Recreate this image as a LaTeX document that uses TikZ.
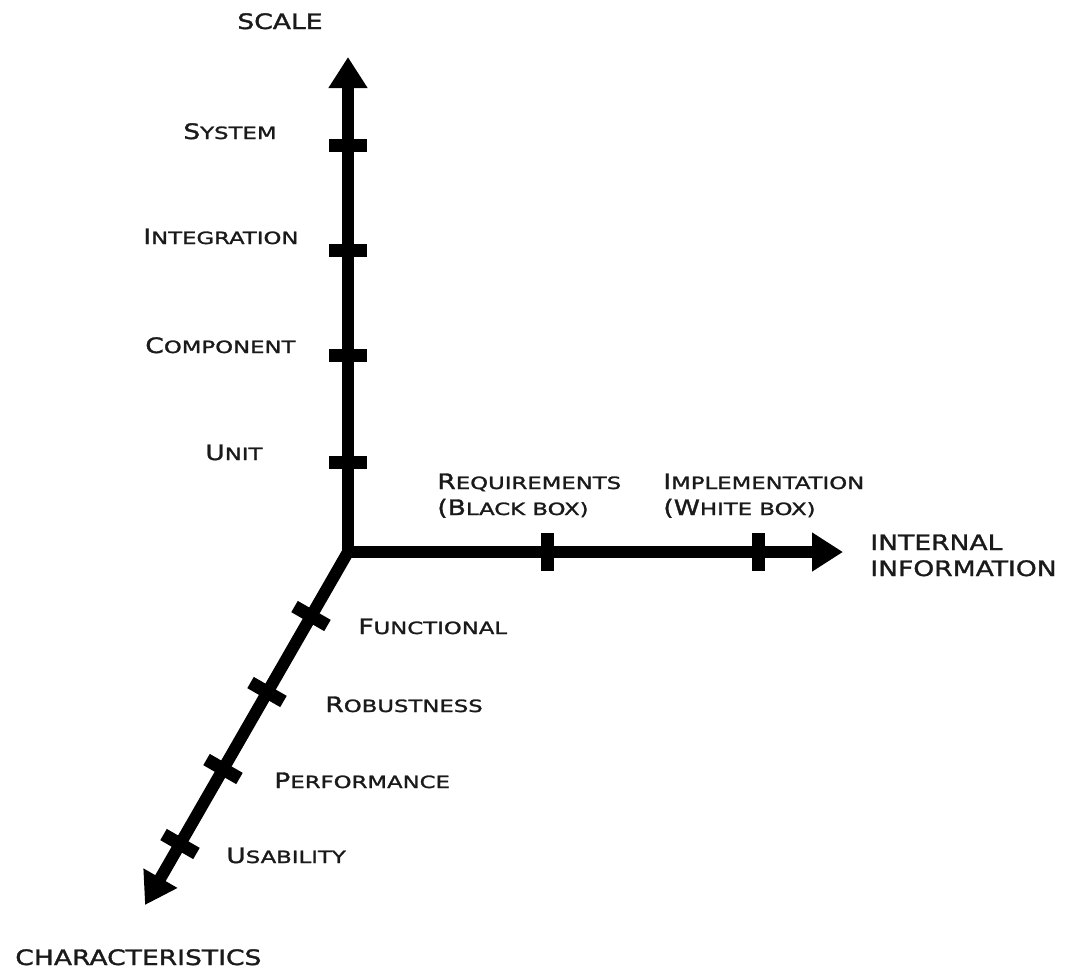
\documentclass[tikz,border=0pt]{standalone}
\usepackage{fontspec}
\usetikzlibrary{arrows.meta}
% wide capitals for all labels
\newfontfamily\capsfacebig[FakeStretch=1.25, FakeBold=1.5]{DejaVu Sans}
\newfontfamily\capsfacesmall[FakeStretch=1.35, FakeBold=1.5]{DejaVu Sans}
\newcommand\capsbig{\capsfacebig\fontsize{12.1}{14.8}\selectfont}
\newcommand\capssmall{\capsfacesmall\fontsize{9.6}{14.8}\selectfont}
% a word in small capitals: large first letter, smaller rest
\newcommand\capsword[2]{{\capsbig #1}{\capssmall #2}}
\definecolor{ink}{HTML}{1A1A1A}
\begin{document}
\begin{tikzpicture}[x=0.02cm, y=-0.02cm,
  axis/.style={line width=0.24cm, shorten <=-0.12cm,
    -{Triangle[length=0.62cm, width=0.74cm]}},
  tickmark/.style={rectangle, fill=black, inner sep=0pt,
    minimum width=0.76cm, minimum height=0.26cm},
  axislabel/.style={inner sep=0pt, anchor=base west, text=ink,
    font=\capsbig, align=left},
  ticklabel/.style={inner sep=0pt, anchor=base west, text=ink,
    font=\capsbig, align=left}]
\useasboundingbox (0,0) rectangle (1065,968);

% origin and the three arrow ends
\coordinate (O) at (348,552);
\coordinate (scaleTip) at (348,57);
\coordinate (infoTip) at (843,552);
\coordinate (charTip) at (145,905);

\draw[axis] (O) -- (scaleTip);
\draw[axis] (O) -- (infoTip);
\draw[axis] (O) -- (charTip);

% ticks on the scale axis
\node[tickmark] (s1) at (348,145) {};
\node[tickmark] (s2) at (348,250) {};
\node[tickmark] (s3) at (348,355) {};
\node[tickmark] (s4) at (348,462) {};

% ticks on the internal information axis
\node[tickmark, rotate=90] (i1) at (547,552) {};
\node[tickmark, rotate=90] (i2) at (758,552) {};

% ticks on the characteristics axis
\node[tickmark, rotate=-29.9] (c1) at (311,616) {};
\node[tickmark, rotate=-29.9] (c2) at (267,692) {};
\node[tickmark, rotate=-29.9] (c3) at (223,769) {};
\node[tickmark, rotate=-29.9] (c4) at (180,844) {};

% axis titles (multi-line nodes sit on their last baseline)
\node[axislabel] (scaleT) at (237,29) {SCALE};
\node[axislabel] (infoT) at (870,576) {INTERNAL\\INFORMATION};
\node[axislabel] (charT) at (15,965) {CHARACTERISTICS};

% scale levels
\node[ticklabel] (lSystem) at (183,139) {\capsword{S}{YSTEM}};
\node[ticklabel] (lInteg) at (143,244) {\capsword{I}{NTEGRATION}};
\node[ticklabel] (lComp) at (145,353) {\capsword{C}{OMPONENT}};
\node[ticklabel] (lUnit) at (205,460) {\capsword{U}{NIT}};

% information levels
\node[ticklabel] (lReq) at (437,515)
  {\capsword{R}{EQUIREMENTS}\\\capsword{(B}{LACK BOX)}};
\node[ticklabel] (lImpl) at (663,515)
  {\capsword{I}{MPLEMENTATION}\\\capsword{(W}{HITE BOX)}};

% characteristics
\node[ticklabel] (lFunc) at (358,634) {\capsword{F}{UNCTIONAL}};
\node[ticklabel] (lRob) at (325,712) {\capsword{R}{OBUSTNESS}};
\node[ticklabel] (lPerf) at (274,788) {\capsword{P}{ERFORMANCE}};
\node[ticklabel] (lUsab) at (226,863) {\capsword{U}{SABILITY}};
\end{tikzpicture}
\end{document}
